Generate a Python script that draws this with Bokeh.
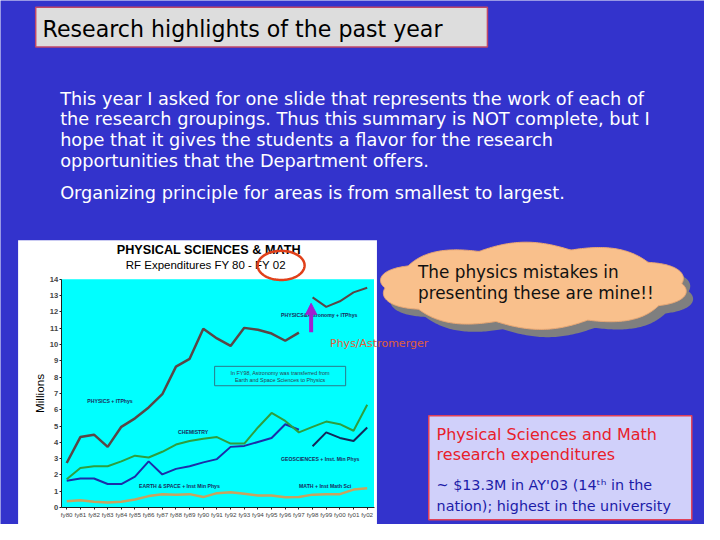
import numpy as np
from bokeh.plotting import figure
from bokeh.models import (Range1d, FixedTicker, LinearAxis, Arrow, NormalHead)
from bokeh.core.properties import value
from bokeh.embed import file_html
from bokeh.resources import INLINE

# ---------------- data ----------------
years = ["fy80", "fy81", "fy82", "fy83", "fy84", "fy85", "fy86", "fy87", "fy88",
         "fy89", "fy90", "fy91", "fy92", "fy93", "fy94", "fy95", "fy96", "fy97",
         "fy98", "fy99", "fy00", "fy01", "fy02"]
nan = float("nan")
physics = [2.73, 4.32, 4.47, 3.72, 4.95, 5.47, 6.14, 6.95, 8.64, 9.12, 10.96,
           10.37, 9.91, 11.02, 10.9, 10.67, 10.23, 10.73,
           nan, nan, nan, nan, nan]
physics_astro = [nan] * 18 + [12.89, 12.31, 12.65, 13.2, 13.48]
chemistry = [1.74, 2.43, 2.53, 2.53, 2.83, 3.18, 3.07, 3.42, 3.86, 4.08, 4.22,
             4.32, 3.92, 3.92, 4.91, 5.8, 5.31, 4.61, 4.95, 5.27, 5.11, 4.71, 6.3]
earth_space = [1.64, 1.78, 1.78, 1.44, 1.44, 1.89, 2.83, 2.03, 2.37, 2.53, 2.77,
               2.97, 3.72, 3.78, 4.02, 4.26, 5.11, 4.77,
               nan, nan, nan, nan, nan]
geosciences = [nan] * 18 + [3.76, 4.61, 4.27, 4.08, 4.91]
math_sci = [0.39, 0.45, 0.35, 0.31, 0.35, 0.49, 0.7, 0.82, 0.79, 0.82, 0.64,
            0.88, 0.94, 0.84, 0.74, 0.74, 0.63, 0.64, 0.79, 0.82, 0.82, 1.1, 1.18]
y_ticks = list(range(0, 15))

# ---------------- geometry ----------------
W, H = 704, 524                 # figure size; slide drawn in 720x540 units
SLW, SLH = 720, 540
FS = (W / SLW + H / SLH) / 2    # font scale
X0, DX = 67.7, 13.97            # slide x of fy80, px per year
Y0, DY = 522.5, 16.8            # slide y of 0 M, px per million
CX_L, CX_R = (62 - X0) / DX, (382 - X0) / DX   # chart area in chart units

p = figure(width=W, height=H, output_backend="svg", toolbar_location=None,
           title=None, x_range=Range1d(0, SLW), y_range=Range1d(SLH, 0),
           x_axis_type=None, y_axis_type=None, min_border=0,
           background_fill_color="#3333cc", border_fill_color="#3333cc",
           outline_line_color=None)
p.extra_x_ranges = {"cx": Range1d((0 - X0) / DX, (SLW - X0) / DX)}
p.extra_y_ranges = {"cy": Range1d((Y0 - SLH) / DY, Y0 / DY)}
p.xgrid.visible = False
p.ygrid.visible = False


def txt(x, y, s, size, color="black", font="DejaVu Sans", style="normal",
        align="left", angle=0):
    p.text(x=[x], y=[y], text=[s], text_font=value(font),
           text_font_size=value(f"{size * FS:.2f}px"), text_font_style=style,
           text_color=color, text_align=align, text_baseline="middle",
           angle=angle)


def box(x0, y0, x1, y1, **kw):
    p.quad(left=[x0], right=[x1], top=[y0], bottom=[y1], **kw)


# white chart background and cyan plot area
box(18, 247, 385, 545, fill_color="white", line_color=None)
p.quad(left=[CX_L], right=[CX_R], bottom=[0], top=[14], x_range_name="cx",
       y_range_name="cy", fill_color="#00ffff", line_color=None)

# ---------------- axes (fixed inside the slide) ----------------
xs = list(range(len(years)))
xaxis = LinearAxis(x_range_name="cx", y_range_name="cy", fixed_location=0,
                   bounds=(CX_L, CX_R), ticker=FixedTicker(ticks=xs),
                   major_label_overrides={i: y for i, y in enumerate(years)},
                   major_label_text_font="Liberation Sans",
                   major_label_text_font_size=f"{6.4 * FS:.2f}px",
                   major_label_standoff=1, major_tick_in=0, major_tick_out=2,
                   minor_tick_line_color=None, axis_line_color="#202020",
                   major_tick_line_color="#202020")
p.add_layout(xaxis, "below")
yaxis = LinearAxis(x_range_name="cx", y_range_name="cy", fixed_location=CX_L,
                   bounds=(0, 14), ticker=FixedTicker(ticks=y_ticks),
                   major_label_text_font="Liberation Sans",
                   major_label_text_font_style="bold",
                   major_label_text_font_size=f"{7.8 * FS:.2f}px",
                   major_label_standoff=1, major_tick_in=0, major_tick_out=2,
                   minor_tick_line_color=None, axis_line_color="#202020",
                   major_tick_line_color="#202020")
p.add_layout(yaxis, "left")

# ---------------- series ----------------
kw = dict(x_range_name="cx", y_range_name="cy")
p.line(xs, math_sci, line_color="#c9a35e", line_width=2.5, **kw)
p.line(xs, earth_space, line_color="#1c2ea8", line_width=2, **kw)
p.line(xs, geosciences, line_color="#14285a", line_width=2, **kw)
p.line(xs, chemistry, line_color="#2e9e3e", line_width=2, **kw)
p.line(xs, physics, line_color="#5a4646", line_width=2.5, **kw)
p.line(xs, physics_astro, line_color="#5a4646", line_width=2, **kw)

# ---------------- slide decorations ----------------
box(36, 7, 498, 48, fill_color="#dddddd", line_color="#c04868", line_width=1.5)
txt(43, 29, "Research highlights of the past year", 22.7)

body = ["This year I asked for one slide that represents the work of each of",
        "the research groupings. Thus this summary is NOT complete, but I",
        "hope that it gives the students a flavor for the research",
        "opportunities that the Department offers."]
for i, line in enumerate(body):
    txt(61, [101, 122, 144, 165][i], line, 18.2, color="white")
txt(61, 198, "Organizing principle for areas is from smallest to largest.", 18.2,
    color="white")

# chart titles
txt(213, 257, "PHYSICAL SCIENCES & MATH", 13, font="Liberation Sans",
    style="bold", align="center")
txt(210, 273, "RF Expenditures FY 80 - FY 02", 11.8, font="Liberation Sans",
    align="center")
txt(40, 405, "Millions", 12, font="Liberation Sans", align="center",
    angle=np.pi / 2)

# in-chart series notes
note_c = "#1a2a5a"
for (x, y, t) in [(112, 413, "PHYSICS + ITPhys"), (197, 445, "CHEMISTRY"),
                  (183, 500, "EARTH & SPACE + Inst Min Phys"),
                  (327, 472, "GEOSCIENCES + Inst. Min Phys"),
                  (332, 500, "MATH + Inst Math Sci"),
                  (326, 324, "PHYSICS&Astronomy + ITPhys")]:
    txt(x, y, t, 5.3, color=note_c, font="Liberation Sans", style="bold",
        align="center")
box(219, 377, 353, 397, fill_alpha=0, line_color="#2a7a8a", line_width=1)
txt(286, 384, "In FY98, Astronomy was transferred from", 5.6, color="#304050",
    font="Liberation Sans", align="center")
txt(286, 391.5, "Earth and Space Sciences to Physics", 5.6, color="#304050",
    font="Liberation Sans", align="center")

# red ellipse around "FY 02"
t = np.linspace(0, 2 * np.pi, 120)
p.patch(287 + 24 * np.cos(t), 273 + 15 * np.sin(t), fill_alpha=0,
        line_color="#e0401a", line_width=2.5)

# purple arrow and merger note
p.add_layout(Arrow(end=NormalHead(size=11, fill_color="#a020d0",
                                  line_color="#a020d0"),
                   x_start=317.7, y_start=342, x_end=317.7, y_end=312,
                   line_color="#a020d0", line_width=4))
txt(337, 353, "Phys/Astromerger", 11.3, color="#e0603a")

# cloud callout with shadow
t = np.linspace(0, 2 * np.pi, 500)
bump = 7 * np.abs(np.sin(5 * t + 0.3))
cx, cy, rx, ry = 545, 294, 152, 38
cxs = cx + (rx + bump) * np.cos(t)
cys = cy + (ry + bump) * np.sin(t)
p.patch(cxs + 7, cys + 8, fill_color="#7f7f7f", line_color=None)
p.patch(cxs, cys, fill_color="#f9c08c", line_color="#eaa874", line_width=1)
txt(427, 280, "The physics mistakes in", 17.3, color="#111111")
txt(427, 301.7, "presenting these are mine!!", 17.3, color="#111111")

# bottom-right info box
box(438, 428, 707, 535, fill_color="#d0d0fa", line_color="#e04058",
    line_width=1.5)
txt(446, 447, "Physical Sciences and Math", 16.4, color="#e8202a")
txt(446, 468, "research expenditures", 16.4, color="#e8202a")
txt(446, 499, "~ $13.3M in AY'03 (14\u1d57\u02b0 in the", 14.7, color="#1c1ca8")
txt(446, 521, "nation); highest in the university", 14.7, color="#1c1ca8")

open("out.html", "w").write(file_html(p, INLINE))
